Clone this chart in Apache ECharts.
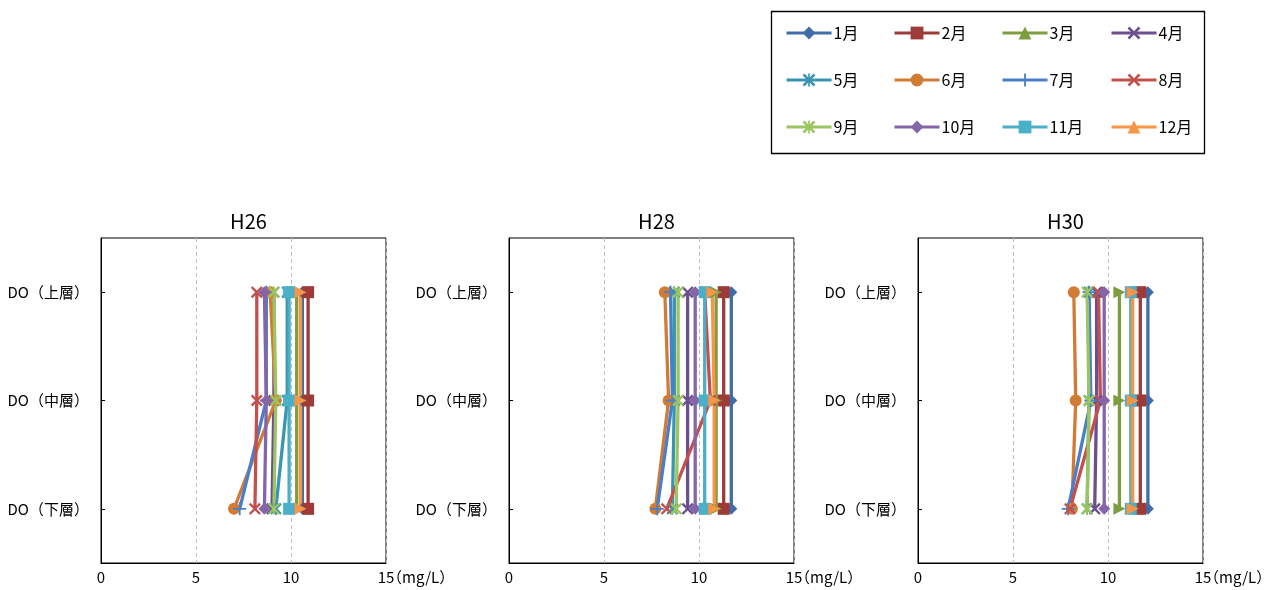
<!DOCTYPE html>
<html><head><meta charset="utf-8">
<script src="https://cdn.jsdelivr.net/npm/echarts@6/dist/echarts.min.js"></script>
<style>html,body{margin:0;padding:0;background:#fff}#c{width:1280px;height:590px}</style>
</head><body><div id="c"></div>
<script>
const categories = ['DO（上層）', 'DO（中層）', 'DO（下層）'];
const months = ['1月','2月','3月','4月','5月','6月','7月','8月','9月','10月','11月','12月'];
const panels = ['H26', 'H28', 'H30'];
const xTicks = [0, 5, 10, 15];
// values per month: [上層, 中層, 下層]
const h26 = [
  [10.6, 10.6, 10.6], [10.9, 10.9, 10.9], [10.3, 10.3, 10.3], [9.1, 9.1, 9.0],
  [9.8, 9.8, 9.2], [8.9, 9.2, 7.0], [8.7, 8.7, 7.3], [8.2, 8.2, 8.1],
  [9.1, 9.2, 9.1], [8.6, 8.7, 8.6], [9.9, 9.9, 9.9], [10.5, 10.5, 10.5]
];
const h28 = [
  [11.7, 11.7, 11.7], [11.3, 11.3, 11.3], [10.9, 10.9, 10.9], [9.4, 9.4, 9.4],
  [8.7, 8.7, 8.6], [8.2, 8.4, 7.7], [8.5, 8.6, 7.8], [10.3, 10.6, 8.3],
  [8.9, 8.9, 8.8], [9.8, 9.8, 9.8], [10.3, 10.3, 10.3], [10.7, 10.8, 10.8]
];
const h30 = [
  [12.1, 12.1, 12.1], [11.7, 11.7, 11.7], [10.6, 10.6, 10.6], [9.4, 9.4, 9.3],
  [9.0, 9.0, 8.9], [8.2, 8.3, 8.1], [9.0, 9.1, 7.9], [9.5, 9.6, 8.0],
  [8.9, 9.0, 8.9], [9.8, 9.8, 9.8], [11.2, 11.2, 11.2], [11.3, 11.3, 11.3]
];
const panelData = [h26, h28, h30];

const colors = ['#3F6DA7','#9C3B38','#7E9D41','#6B4F8E','#3A95AE','#D27B34',
                '#4A7EC8','#C4504D','#9CC460','#8466A8','#4BAFC8','#F79646'];
const X = 'path://M0,1.4L1.4,0L5,3.6L8.6,0L10,1.4L6.4,5L10,8.6L8.6,10L5,6.4L1.4,10L0,8.6L3.6,5Z';
const STAR = 'path://M0,1.4L1.4,0L5,3.6L8.6,0L10,1.4L6.4,5L10,8.6L8.6,10L5,6.4L1.4,10L0,8.6L3.6,5Z M4.35,0H5.65V10H4.35Z';
const PLUS = 'path://M4.3,0H5.7V4.3H10V5.7H5.7V10H4.3V5.7H0V4.3H4.3Z';
const symbols = ['diamond','rect','triangle',X,STAR,'circle',PLUS,X,STAR,'diamond','rect','triangle'];
const sizes = [12,12,12,12,12,12,13,12,12,12,12,12];

const font = '"Noto Sans CJK JP", "Noto Sans", sans-serif';
const gridLefts = [101, 509, 918];
const grids = [], xAxes = [], yAxes = [], titles = [], series = [];
panels.forEach((p, i) => {
  grids.push({left: gridLefts[i], top: 238, width: 285, height: 325, show: true,
    outerBoundsMode: 'none', containLabel: false,
    borderColor: '#000', borderWidth: 1, backgroundColor: 'transparent'});
  titles.push({text: p, left: gridLefts[i] + 142.5, top: 206, textAlign: 'center',
    textStyle: {fontFamily: font, fontSize: 20, fontWeight: 'normal', color: '#000'}});
  xAxes.push({type: 'value', gridIndex: i, min: xTicks[0], max: xTicks[xTicks.length-1], interval: 5,
    axisLine: {show: true, lineStyle: {color: '#000', width: 1}},
    axisTick: {show: false},
    axisLabel: {fontFamily: font, fontSize: 15, color: '#000', margin: 7},
    splitLine: {show: true, lineStyle: {color: '#BFBFBF', type: [4, 3], width: 1}},
    name: '（mg/L）', nameLocation: 'end', nameGap: 1, nameMoveOverlap: false,
    nameTextStyle: {fontFamily: font, fontSize: 15, color: '#000', verticalAlign: 'top', padding: [7, 0, 0, 0]}
  });
  yAxes.push({type: 'category', gridIndex: i, data: categories, inverse: true,
    axisLine: {show: true, lineStyle: {color: '#000', width: 1}},
    axisTick: {show: true, inside: true, length: 4, alignWithLabel: true, lineStyle: {color: '#000'}},
    axisLabel: {fontFamily: font, fontSize: 15, color: '#000', margin: 12},
    splitLine: {show: false}
  });
  months.forEach((m, k) => {
    series.push({type: 'line', name: m, xAxisIndex: i, yAxisIndex: i,
      data: panelData[i][k],
      symbol: symbols[k], symbolSize: sizes[k],
      symbolRotate: symbols[k] === 'triangle' ? -90 : 0,
      lineStyle: {width: 3.3, color: colors[k]},
      itemStyle: {color: colors[k]},
      emphasis: {disabled: true}
    });
  });
});

const legendCols = [785, 893, 1001, 1110];
const legendRows = [25, 72, 119];
const legends = months.map((m, k) => ({
  data: [m], left: legendCols[k % 4], top: legendRows[Math.floor(k / 4)],
  padding: 0, itemWidth: 45, itemHeight: 16, symbolRotate: 0, selectedMode: false,
  lineStyle: {width: 3},
  textStyle: {fontFamily: font, fontSize: 16, color: '#000', padding: [0, 0, 0, -3]}
}));

const chart = echarts.init(document.getElementById('c'), null, {renderer: 'canvas'});
chart.setOption({
  animation: false,
  color: colors,
  title: titles,
  grid: grids,
  xAxis: xAxes,
  yAxis: yAxes,
  legend: legends,
  series: series,
  graphic: [{type: 'rect', shape: {x: 771.5, y: 11.5, width: 433, height: 142},
    style: {fill: 'none', stroke: '#000', lineWidth: 1.3}, silent: true}]
});
</script></body></html>
